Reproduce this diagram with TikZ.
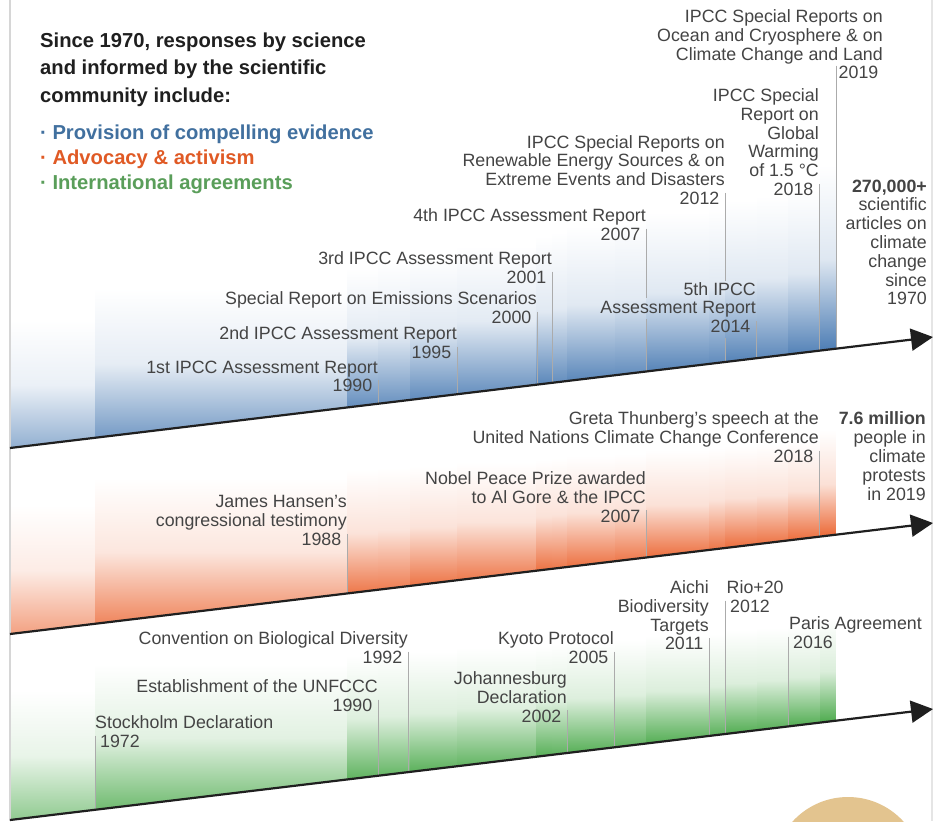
\documentclass[tikz,border=0pt]{standalone}
\usepackage{fontspec}
\setmainfont{Liberation Sans}
\usetikzlibrary{arrows.meta}
\definecolor{txt}{HTML}{444444}
\definecolor{tickc}{HTML}{ABABAB}
\definecolor{sblue}{HTML}{4A7BB3}
\definecolor{sorange}{HTML}{EB6430}
\definecolor{sgreen}{HTML}{48A848}
\definecolor{hblue}{HTML}{41709F}
\definecolor{horange}{HTML}{E05A25}
\definecolor{hgreen}{HTML}{5A9E5A}
\definecolor{tanc}{HTML}{E3C48F}
\newcommand\yg{\hbox to 5.5pt{}}
\newcommand\lgap[1]{\hbox to #1{}}
\begin{document}
\begin{tikzpicture}[x=1pt,y=-1pt,
  declare function={bA(\t)=448-0.12026*(\t-10); bB(\t)=634-0.12026*(\t-10); bC(\t)=820-0.12026*(\t-10);},
  lbl/.style={inner sep=0pt, text=txt, font=\fontsize{17.8}{18.8}\selectfont},
  lblr/.style={lbl, align=right, anchor=north east},
  lbll/.style={lbl, align=left, anchor=north west},
  tickline/.style={draw=tickc, line width=0.8pt},
  axisline/.style={draw=black!88, line width=2.2pt, -{Triangle[length=22pt,width=22pt]}},
  border/.style={draw=black!16, line width=1.6pt}
]
\useasboundingbox (0,0) rectangle (933,821);
\fill[white] (0,0) rectangle (933,821);

% ---- band fills ----
\begin{scope}
\clip (10,{bA(10)}) -- (836,{bA(836)}) -- (836,0) -- (10,0) -- cycle;
\foreach \xa/\xb/\yt/\c in {10/95/320/62, 95/347/288/78, 347/378/268/88, 378/410/262/84, 410/457/255/90, 457/536/246/86, 536/552/236/93, 552/567/232/88, 567/615/226/93, 615/646/220/88, 646/709/212/95, 709/725/208/90, 725/757/200/96, 757/788/196/91, 788/820/190/97, 820/836/165/100}{
  \pgfmathsetmacro\m{0.18*\c}
  \shade[top color=white, bottom color=sblue!\c!white, middle color=sblue!\m!white] (\xa,\yt) rectangle (\xb,{bA(\xa)+2});
}
\end{scope}
\begin{scope}
\clip (10,{bB(10)}) -- (836,{bB(836)}) -- (836,{bA(836)}) -- (10,{bA(10)}) -- cycle;
\foreach \xa/\xb/\yt/\c in {10/95/505/62, 95/347/478/80, 347/378/470/90, 378/410/468/86, 410/457/466/92, 457/536/462/88, 536/552/460/94, 552/567/458/90, 567/615/456/94, 615/646/454/90, 646/709/450/96, 709/725/448/92, 725/757/446/97, 757/788/444/93, 788/820/440/97, 820/836/430/100}{
  \pgfmathsetmacro\m{0.2*\c}
  \shade[top color=white, bottom color=sorange!\c!white, middle color=sorange!\m!white] (\xa,\yt) rectangle (\xb,{bB(\xa)+2});
}
\end{scope}
\begin{scope}
\clip (10,{bC(10)}) -- (836,{bC(836)}) -- (836,{bB(836)}) -- (10,{bB(10)}) -- cycle;
\foreach \xa/\xb/\yt/\c in {10/95/690/62, 95/347/664/80, 347/378/656/90, 378/410/654/86, 410/457/652/92, 457/536/648/88, 536/552/646/94, 552/567/644/90, 567/615/642/94, 615/646/640/90, 646/709/636/96, 709/725/634/92, 725/757/630/97, 757/788/628/93, 788/820/626/97, 820/836/618/100}{
  \pgfmathsetmacro\m{0.2*\c}
  \shade[top color=white, bottom color=sgreen!\c!white, middle color=sgreen!\m!white] (\xa,\yt) rectangle (\xb,{bC(\xa)+2});
}
\end{scope}

% partially visible disc at the bottom
\fill[tanc] (848,872) circle (75);

% borders
\draw[border] (10,0) -- (10,821);
\draw[border, draw=black!10] (932,0) -- (932,821);

% ---- header ----
\node[anchor=north west, inner sep=0pt, align=left, text=black!88,
      font=\bfseries\fontsize{20.2}{27.6}\selectfont] (head) at (40,32.5)
  {Since 1970, responses by science\\and informed by the scientific\\community include:};
\node[anchor=north west, inner sep=0pt, align=left,
      font=\bfseries\fontsize{20.2}{24.7}\selectfont] (bullets) at (40,124.8)
  {{\color{hblue}· Provision of compelling evidence}\\{\color{horange}· Advocacy \& activism}\\{\color{hgreen}· International agreements}};

% ---- band 1 labels ----
\node[lblr] (r1990) at (378,360.4) {1st IPCC Assessment Report\\1990\yg};
\node[lblr] (r1995) at (457,326.4) {2nd IPCC Assessment Report\\1995\yg};
\node[lblr] (r2000) at (537,291.4) {Special Report on Emissions Scenarios\\2000\yg};
\node[lblr] (r2001) at (552,251.4) {3rd IPCC Assessment Report\\2001\yg};
\node[lblr] (r2007) at (646,208.4) {4th IPCC Assessment Report\\2007\yg};
\node[lblr] (r2012) at (725,135) {IPCC Special Reports on\\Renewable Energy Sources \& on\\Extreme Events and Disasters\\2012\yg};
\node[lblr] (r2018) at (819,88.4) {IPCC Special\\Report on\\Global\\Warming\\of 1.5 °C\\2018\yg};
\node[lblr] (r2019t) at (883,9.4) {IPCC Special Reports on\\Ocean and Cryosphere \& on\\Climate Change and Land};
\node[lbll] (r2019) at (836,65.7) {\lgap{2.5pt}2019};
\node[lblr] (r2014) at (756,282) {5th IPCC\\Assessment Report\\2014\yg};
\node[lblr] (stat1) at (927,179.4) {\textbf{270,000+}\\scientific\\articles on\\climate\\change\\since\\1970};

% ---- band 2 labels ----
\node[lblr] (r1988) at (347,495.4) {James Hansen’s\\congressional testimony\\1988\yg};
\node[lblr] (n2007) at (646,471.4) {Nobel Peace Prize awarded\\to Al Gore \& the IPCC\\2007\yg};
\node[lblr] (g2018) at (819,411.7) {Greta Thunberg’s speech at the\\United Nations Climate Change Conference\\2018\yg};
\node[lblr] (stat2) at (926,411.7) {\textbf{7.6 million}\\people in\\climate\\protests\\in 2019};

% ---- band 3 labels ----
\node[lbll] (l1972) at (95,715.4) {Stockholm Declaration\\\lgap{5pt}1972};
\node[lblr] (u1990) at (378,679.4) {Establishment of the UNFCCC\\1990\yg};
\node[lblr] (c1992) at (408,631.4) {Convention on Biological Diversity\\1992\yg};
\node[lblr] (j2002) at (567,671.4) {Johannesburg\\Declaration\\2002\yg};
\node[lblr] (k2005) at (614,631.4) {Kyoto Protocol\\2005\yg};
\node[lblr] (a2011) at (709,580.4) {Aichi\\Biodiversity\\Targets\\2011\yg};
\node[lbll] (rio2012) at (725,580.4) {\lgap{1.5pt}Rio+20\\\lgap{5pt}2012};
\node[lbll] (p2016) at (788,616.4) {\lgap{1pt}Paris Agreement\\\lgap{5pt}2016};

% ---- baseline coordinates ----
\foreach \n/\x in {t1990/378, t1995/457, t2000/537, t2001/552, t2007/646, t2012/725, t2014/756, t2018/819, t2019/836}
  \coordinate (\n) at (\x,{bA(\x)});
\foreach \n/\x in {t1988/347, tn2007/646, tg2018/819}
  \coordinate (\n) at (\x,{bB(\x)});
\foreach \n/\x in {t1972/95, tu1990/378, tc1992/408, tj2002/567, tk2005/614, ta2011/709, tr2012/725, tp2016/788}
  \coordinate (\n) at (\x,{bC(\x)});
% breaks where the 2007 and 2012 ticks pass behind the 5th IPCC label
\coordinate (b2007a) at (646,298);
\coordinate (b2007b) at (646,319);
\coordinate (b2012a) at (725,{282-1});
\coordinate (b2012b) at (725,338);

% ---- tick connectors ----
\foreach \a/\b in {r1990/t1990, r1995/t1995, r2000/t2000, r2001/t2001, r2014/t2014, r2018/t2018,
                   r1988/t1988, n2007/tn2007, g2018/tg2018,
                   u1990/tu1990, c1992/tc1992, j2002/tj2002, k2005/tk2005, a2011/ta2011}
  \draw[tickline] ([yshift=12pt]\a.south east) -- (\b);
\draw[tickline] ([yshift=12pt]r2007.south east) -- (b2007a);
\draw[tickline] (b2007b) -- (t2007);
\draw[tickline] ([yshift=12pt]r2012.south east) -- (b2012a);
\draw[tickline] (b2012b) -- (t2012);
\draw[tickline] (r2019.north west) -- (t2019);
\foreach \a/\b in {l1972/t1972, rio2012/tr2012, p2016/tp2016}
  \draw[tickline] ([yshift=12pt]\a.south west) -- (\b);

% ---- axes ----
\coordinate (a1s) at (10,{bA(10)});  \coordinate (a1e) at (933,{bA(933)});
\coordinate (a2s) at (10,{bB(10)});  \coordinate (a2e) at (933,{bB(933)});
\coordinate (a3s) at (10,{bC(10)});  \coordinate (a3e) at (933,{bC(933)});
\draw[axisline] (a1s) -- (a1e);
\draw[axisline] (a2s) -- (a2e);
\draw[axisline] (a3s) -- (a3e);
\end{tikzpicture}
\end{document}
